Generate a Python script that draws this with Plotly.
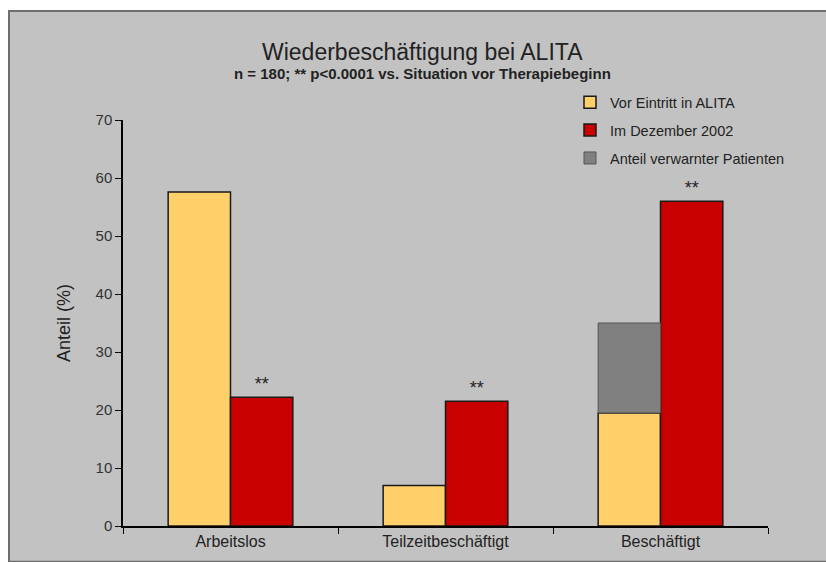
import plotly.graph_objects as go

categories = ["Arbeitslos", "Teilzeitbeschäftigt", "Beschäftigt"]
vor_values = [57.6, 7.0, 19.5]
dez_values = [22.2, 21.5, 56.0]
grey_categories = ["Beschäftigt"]
grey_values = [15.5]
grey_base = [19.5]
dez_marks = ["**", "**", "**"]

fig = go.Figure()
fig.add_trace(go.Bar(
    name="Vor Eintritt in ALITA", x=categories, y=vor_values, offsetgroup="a",
    legendgroup="g1",
    marker=dict(color="#FFD06A", line=dict(color="#1a1a1a", width=1.5)),
))
fig.add_trace(go.Bar(
    name="Im Dezember 2002", x=categories, y=dez_values, offsetgroup="b",
    legendgroup="g2",
    marker=dict(color="#C80000", line=dict(color="#1a1a1a", width=1.5)),
    text=dez_marks, textposition="outside", cliponaxis=False,
    textfont=dict(size=18, color="#222", family="Liberation Sans, Arial"),
))
fig.add_trace(go.Bar(
    name="Anteil verwarnter Patienten", x=grey_categories, y=grey_values, base=grey_base,
    offsetgroup="a", legendgroup="g3",
    marker=dict(color="#808080", line=dict(color="#555", width=1)),
))

# plot area: x 123..768, y 120..530
W, H = 826, 562
l, r, t, b = 123, 58, 120, 32
pw, ph = W - l - r, H - t - b

def px(x):
    return (x - l) / pw

def py(y):
    return (H - b - y) / ph

fig.add_shape(type="rect", xref="paper", yref="paper",
              x0=px(9), x1=px(830), y0=py(566), y1=py(10),
              fillcolor="#C2C2C2", line=dict(color="#6e6e6e", width=2), layer="below")

fig.add_annotation(text="Wiederbeschäftigung bei ALITA", xref="paper", yref="paper",
                   x=px(422), y=py(36), showarrow=False,
                   font=dict(size=23, color="#222", family="Liberation Sans, Arial"))
fig.add_annotation(text="<b>n = 180; ** p<0.0001 vs. Situation vor Therapiebeginn</b>",
                   xref="paper", yref="paper", x=px(422), y=py(62), showarrow=False,
                   font=dict(size=15, color="#222", family="Liberation Sans, Arial"))

fig.update_layout(
    width=W, height=H,
    margin=dict(l=l, r=r, t=t, b=b),
    paper_bgcolor="white", plot_bgcolor="rgba(0,0,0,0)",
    barmode="group", bargap=0.42, bargroupgap=0,
    font=dict(family="Liberation Sans, Arial", color="#333"),
    showlegend=True,
    legend=dict(x=px(570), y=py(86), xanchor="left", yanchor="top",
                bgcolor="rgba(0,0,0,0)", font=dict(size=14.5, color="#222"),
                tracegroupgap=6, itemwidth=30),
    xaxis=dict(showline=True, linecolor="black", linewidth=1.5, ticks="outside",
               tickson="boundaries", ticklen=6, tickcolor="black",
               tickfont=dict(size=16, color="#222"), showgrid=False),
    yaxis=dict(range=[0, 70], dtick=10, showline=True, linecolor="black", linewidth=1.5,
               ticks="outside", ticklen=6, tickcolor="black", showgrid=False, zeroline=False,
               tickfont=dict(size=15, color="#333"),
               title=dict(text="Anteil (%)", font=dict(size=18, color="#222"), standoff=20)),
)

fig.write_html("out.html")
